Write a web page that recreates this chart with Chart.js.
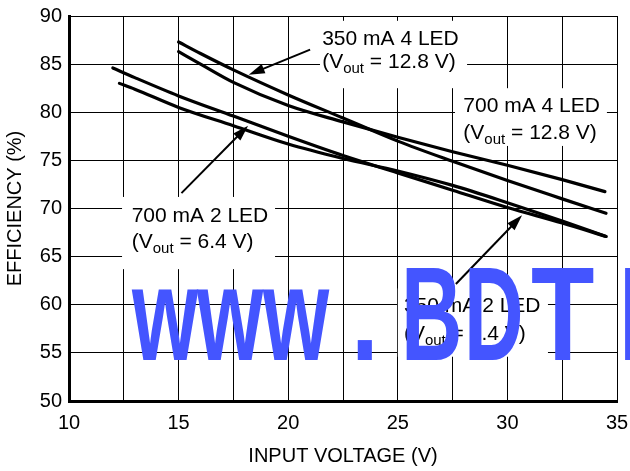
<!DOCTYPE html>
<html>
<head>
<meta charset="utf-8">
<script src="https://cdn.jsdelivr.net/npm/chart.js@4.4.1/dist/chart.umd.min.js"></script>
<style>
  html, body { margin: 0; padding: 0; background: #fff; }
  #wrap { width: 630px; height: 471px; }
</style>
</head>
<body>
<div id="wrap"><canvas id="effChart" width="630" height="471"></canvas></div>
<script>
const FONT = "'Liberation Sans', Arial, Helvetica, sans-serif";

// tick labels (grid every 2.5 V on x, labels only on these)
const xTickLabels = [10, 15, 20, 25, 30, 35];
const yTickLabels = [50, 55, 60, 65, 70, 75, 80, 85, 90];

// 350 mA 4 LED (Vout = 12.8 V)
const vin350x4 = [15, 16, 17.5, 20, 22.5, 25, 27.5, 30, 32.5, 34.5];
const eff350x4 = [87.3, 86.1, 84.4, 81.8, 79.4, 77.0, 74.9, 72.9, 71.0, 69.5];
// 700 mA 4 LED (Vout = 12.8 V)
const vin700x4 = [15, 16, 17.5, 20, 22.5, 25, 27.5, 30, 32.5, 34.45];
const eff700x4 = [86.3, 85.0, 83.1, 80.7, 79.0, 77.4, 75.9, 74.5, 73.0, 71.75];
// 350 mA 2 LED (Vout = 6.4 V)
const vin350x2 = [12, 13, 15, 17.5, 20, 22.5, 25, 27.5, 30, 32.5, 34.5];
const eff350x2 = [84.6, 83.6, 81.7, 79.6, 77.5, 75.5, 73.7, 71.9, 70.1, 68.5, 67.1];
// 700 mA 2 LED (Vout = 6.4 V)
const vin700x2 = [12.3, 13, 15, 17.5, 20, 22.5, 25, 27.5, 30, 32.5, 34.5];
const eff700x2 = [83.0, 82.4, 80.5, 78.6, 76.7, 75.2, 73.9, 72.4, 70.6, 68.7, 67.1];

// label boxes in data units: [xFrom, xTo, yTop, yBottom]
const labelBoxes = [
  [21.45, 28.16, 89.5, 82.5],
  [27.61, 34.54, 82.5, 76.5],
  [12.42, 19.40, 71.2, 63.7],
  [25.00, 31.85, 61.7, 54.6]
];

// callouts: first line, second-line value, left x, baselines
const callouts = [
  { title: '350 mA 4 LED', vout: '12.8', x: 21.55, y1: 87.0, y2: 84.6 },
  { title: '700 mA 4 LED', vout: '12.8', x: 27.99, y1: 80.06, y2: 77.17 },
  { title: '700 mA 2 LED', vout: '6.4', x: 12.86, y1: 68.63, y2: 65.9 },
  { title: '350 mA 2 LED', vout: '6.4', x: 25.28, y1: 59.28, y2: 56.34 }
];

// arrows: [fromX, fromY, toX, toY]
const arrows = [
  [21.0, 86.5, 18.2, 83.9],
  [15.13, 71.6, 18.17, 78.6],
  [27.65, 62.15, 30.67, 69.3]
];

const zip = (xs, ys) => xs.map((v, i) => ({ x: v, y: ys[i] }));

function drawArrow(ctx, x0, y0, x1, y1) {
  const a = Math.atan2(y1 - y0, x1 - x0);
  const len = 16, hw = 5;
  ctx.beginPath();
  ctx.moveTo(x0, y0);
  ctx.lineTo(x1 - Math.cos(a) * len * 0.8, y1 - Math.sin(a) * len * 0.8);
  ctx.stroke();
  ctx.beginPath();
  ctx.moveTo(x1, y1);
  ctx.lineTo(x1 - Math.cos(a) * len - Math.sin(a) * hw, y1 - Math.sin(a) * len + Math.cos(a) * hw);
  ctx.lineTo(x1 - Math.cos(a) * len + Math.sin(a) * hw, y1 - Math.sin(a) * len - Math.cos(a) * hw);
  ctx.closePath();
  ctx.fill();
}

const annotations = {
  id: 'annotations',
  beforeDatasetsDraw(chart) {
    const { ctx, scales: { x, y } } = chart;
    ctx.save();
    ctx.fillStyle = '#fff';
    labelBoxes.forEach(b => {
      const x0 = x.getPixelForValue(b[0]), x1 = x.getPixelForValue(b[1]);
      const y0 = y.getPixelForValue(b[2]), y1 = y.getPixelForValue(b[3]);
      ctx.fillRect(x0, y0, x1 - x0, y1 - y0);
    });
    ctx.restore();
  },
  afterDatasetsDraw(chart) {
    const { ctx, scales: { x, y } } = chart;
    ctx.save();
    ctx.strokeStyle = '#000';
    ctx.fillStyle = '#000';
    ctx.lineWidth = 2;
    arrows.forEach(a => {
      drawArrow(ctx, x.getPixelForValue(a[0]), y.getPixelForValue(a[1]),
                x.getPixelForValue(a[2]), y.getPixelForValue(a[3]));
    });

    ctx.textBaseline = 'alphabetic';
    ctx.textAlign = 'left';
    callouts.forEach(c => {
      const px = x.getPixelForValue(c.x);
      ctx.font = '21px ' + FONT;
      ctx.fillText(c.title, px, y.getPixelForValue(c.y1));
      // (Vout = ... V) with subscript
      const by = y.getPixelForValue(c.y2);
      let cx = px;
      ctx.font = '21px ' + FONT;
      ctx.fillText('(V', cx, by);
      cx += ctx.measureText('(V').width;
      ctx.font = '15px ' + FONT;
      ctx.fillText('out', cx, by + 5);
      cx += ctx.measureText('out').width;
      ctx.font = '21px ' + FONT;
      ctx.fillText(' = ' + c.vout + ' V)', cx, by);
    });
    ctx.restore();
  },
  afterDraw(chart) {
    // watermark overlay
    const { ctx } = chart;
    const glyphs = [['w', 132, 0.64], ['w', 197, 0.64], ['w', 263, 0.64], ['.', 351, 0.75],
                    ['B', 401, 0.64], ['D', 464, 0.62], ['T', 531, 0.78], ['I', 618, 0.8]];
    ctx.save();
    ctx.fillStyle = 'rgb(68, 85, 255)';
    ctx.font = 'bold 133px ' + FONT;
    ctx.textBaseline = 'alphabetic';
    glyphs.forEach(g => {
      ctx.save();
      ctx.translate(g[1], 360);
      ctx.scale(g[2], 1);
      ctx.fillText(g[0], 0, 0);
      ctx.restore();
    });
    ctx.restore();
  }
};

const lineStyle = {
  showLine: true,
  borderColor: '#000',
  borderWidth: 3.2,
  borderCapStyle: 'round',
  pointRadius: 0,
  fill: false,
  cubicInterpolationMode: 'monotone'
};

const ctx = document.getElementById('effChart');

new Chart(ctx, {
  type: 'scatter',
  data: {
    datasets: [
      { label: '350 mA 4 LED', data: zip(vin350x4, eff350x4), ...lineStyle },
      { label: '700 mA 4 LED', data: zip(vin700x4, eff700x4), ...lineStyle },
      { label: '350 mA 2 LED', data: zip(vin350x2, eff350x2), ...lineStyle },
      { label: '700 mA 2 LED', data: zip(vin700x2, eff700x2), ...lineStyle }
    ]
  },
  options: {
    responsive: false,
    animation: false,
    layout: { padding: { top: 16, right: 13, bottom: 0, left: 0 } },
    plugins: {
      legend: { display: false },
      tooltip: { enabled: false }
    },
    scales: {
      x: {
        type: 'linear',
        min: 10,
        max: 35,
        afterFit(scale) {
          scale.height = 70;
          scale.paddingLeft = 0;
          scale.paddingRight = 0;
        },
        ticks: {
          stepSize: 2.5,
          autoSkip: false,
          maxRotation: 0,
          padding: 10,
          color: '#000',
          font: { family: FONT, size: 20 },
          callback: v => (xTickLabels.includes(v) ? String(v) : '')
        },
        grid: { color: '#000', lineWidth: 1, drawTicks: false },
        border: { display: true, color: '#000', width: 3 },
        title: {
          display: true,
          text: 'INPUT VOLTAGE (V)',
          color: '#000',
          font: { family: FONT, size: 20 },
          padding: { top: 0, bottom: 3 }
        }
      },
      y: {
        type: 'linear',
        min: 50,
        max: 90,
        afterFit(scale) {
          scale.width = 69;
          scale.paddingTop = 0;
          scale.paddingBottom = 0;
        },
        ticks: {
          stepSize: 5,
          padding: 7,
          color: '#000',
          font: { family: FONT, size: 20 },
          callback: v => (yTickLabels.includes(v) ? String(v) : '')
        },
        grid: { color: '#000', lineWidth: 1, drawTicks: false },
        border: { display: true, color: '#000', width: 3 },
        title: {
          display: true,
          text: 'EFFICIENCY (%)',
          color: '#000',
          font: { family: FONT, size: 20 },
          padding: { top: 3, bottom: 0 }
        }
      }
    }
  },
  plugins: [annotations]
});
</script>
</body>
</html>
